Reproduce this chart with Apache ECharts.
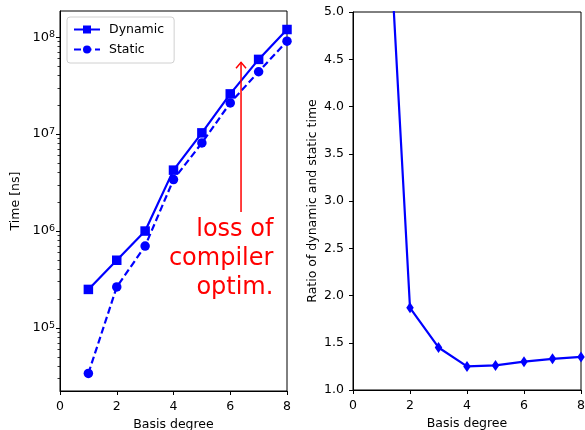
<!DOCTYPE html>
<html>
<head>
<meta charset="utf-8">
<script src="https://cdn.jsdelivr.net/npm/echarts@6/dist/echarts.min.js"></script>
<style>
html,body{margin:0;padding:0;background:#fff;}
#chart{width:585px;height:430px;}
</style>
</head>
<body>
<div id="chart"></div>
<script>
// ---- data ----
var degrees = [1, 2, 3, 4, 5, 6, 7, 8];
var dynamicTime = [2.5e5, 5.0e5, 1.0e6, 4.25e6, 1.03e7, 2.6e7, 5.9e7, 1.2e8];
var staticTime = [3.4e4, 2.65e5, 7.0e5, 3.4e6, 8.1e6, 2.1e7, 4.4e7, 9.1e7];
var ratio = [7.4, 1.87, 1.45, 1.25, 1.26, 1.30, 1.33, 1.35];
var timeMajorTicks = [1e5, 1e6, 1e7, 1e8];
var timeMinorTicks = [3e4, 4e4, 5e4, 6e4, 7e4, 8e4, 9e4,
  2e5, 3e5, 4e5, 5e5, 6e5, 7e5, 8e5, 9e5,
  2e6, 3e6, 4e6, 5e6, 6e6, 7e6, 8e6, 9e6,
  2e7, 3e7, 4e7, 5e7, 6e7, 7e7, 8e7, 9e7];
var xTicks = [0, 2, 4, 6, 8];
var ratioTicks = [1.0, 1.5, 2.0, 2.5, 3.0, 3.5, 4.0, 4.5, 5.0];
var annotationText = 'loss of\ncompiler\noptim.';

function pairs(xs, ys) { return xs.map(function (x, i) { return [x, ys[i]]; }); }

var FONT = 'DejaVu Sans';
var BLUE = '#0000ff';
var logMin = Math.pow(10, 4.35), logMax = Math.pow(10, 8.27);

var tickStyle = { color: '#000', width: 1 };
function xAxisCfg(grid) {
  return {
    type: 'value', gridIndex: grid, min: 0, max: 8, interval: 2,
    name: 'Basis degree', nameLocation: 'middle', nameGap: 25,
    nameTextStyle: { fontFamily: FONT, fontSize: 12.5, color: '#000' },
    axisLine: { show: true, onZero: false, lineStyle: { color: '#000', width: 1 } },
    axisTick: { show: true, inside: false, length: 4, lineStyle: tickStyle, customValues: xTicks },
    axisLabel: { show: true, margin: 9, fontFamily: FONT, fontSize: 12.5, color: '#000', customValues: xTicks },
    splitLine: { show: false }
  };
}

var chart = echarts.init(document.getElementById('chart'), null, { renderer: 'canvas' });
var option = {
  animation: false,
  backgroundColor: '#fff',
  grid: [
    { left: 60, right: 298, top: 11, bottom: 39, show: true, borderColor: '#000', borderWidth: 1, containLabel: false, outerBoundsMode: 'none' },
    { left: 353, right: 4, top: 12, bottom: 40, show: true, borderColor: '#000', borderWidth: 1, containLabel: false, outerBoundsMode: 'none' }
  ],
  legend: {
    data: ['Dynamic', 'Static'],
    orient: 'vertical', left: 67, top: 17,
    itemWidth: 26, itemHeight: 10, itemGap: 7,
    padding: [6, 10, 7, 6],
    backgroundColor: 'rgba(255,255,255,0.8)',
    borderColor: '#d0d0d0', borderWidth: 1, borderRadius: 3,
    textStyle: { fontFamily: FONT, fontSize: 12.5, color: '#000', padding: [0, 0, 0, 4] }
  },
  xAxis: [xAxisCfg(0), xAxisCfg(1)],
  yAxis: [
    {
      type: 'log', logBase: 10, gridIndex: 0, min: logMin, max: logMax,
      name: 'Time [ns]', nameLocation: 'middle', nameGap: 38,
      nameTextStyle: { fontFamily: FONT, fontSize: 12.5, color: '#000' },
      axisLine: { show: true, lineStyle: { color: '#000', width: 1 } },
      axisTick: { show: true, length: 4, lineStyle: tickStyle, customValues: timeMajorTicks },
      axisLabel: {
        show: true, margin: 5, customValues: timeMajorTicks,
        formatter: function (v) { return '{b|10}{s|' + Math.round(Math.log10(v)) + '}'; },
        rich: {
          b: { fontFamily: FONT, fontSize: 13, color: '#000' },
          s: { fontFamily: FONT, fontSize: 9.5, color: '#000', verticalAlign: 'bottom', padding: [0, 0, 5, 0] }
        }
      },
      splitLine: { show: false }
    },
    {
      type: 'log', logBase: 10, gridIndex: 0, min: logMin, max: logMax, position: 'left',
      axisLine: { show: false },
      axisTick: { show: true, length: 2.5, lineStyle: { color: '#000', width: 0.8 }, customValues: timeMinorTicks },
      axisLabel: { show: false },
      splitLine: { show: false }
    },
    {
      type: 'value', gridIndex: 1, min: 1, max: 5, interval: 0.5,
      name: 'Ratio of dynamic and static time', nameLocation: 'middle', nameGap: 34,
      nameTextStyle: { fontFamily: FONT, fontSize: 12.5, color: '#000' },
      axisLine: { show: true, lineStyle: { color: '#000', width: 1 } },
      axisTick: { show: true, length: 4, lineStyle: tickStyle, customValues: ratioTicks },
      axisLabel: { show: true, margin: 9, fontFamily: FONT, fontSize: 12.5, color: '#000', customValues: ratioTicks,
        formatter: function (v) { return Number(v).toFixed(1); } },
      splitLine: { show: false }
    }
  ],
  series: [
    {
      name: 'Dynamic', type: 'line', xAxisIndex: 0, yAxisIndex: 0,
      data: pairs(degrees, dynamicTime),
      symbol: 'rect', symbolSize: 9.5, showAllSymbol: true,
      lineStyle: { color: BLUE, width: 2.2 }, itemStyle: { color: BLUE }
    },
    {
      name: 'Static', type: 'line', xAxisIndex: 0, yAxisIndex: 0,
      data: pairs(degrees, staticTime),
      symbol: 'circle', symbolSize: 9.5, showAllSymbol: true,
      lineStyle: { color: BLUE, width: 2.2, type: [7, 3.5] }, itemStyle: { color: BLUE }
    },
    {
      name: 'Ratio', type: 'line', xAxisIndex: 1, yAxisIndex: 2,
      data: pairs(degrees, ratio),
      symbol: 'diamond', symbolSize: [7.5, 11], showAllSymbol: true, clip: true,
      lineStyle: { color: BLUE, width: 2.2 }, itemStyle: { color: BLUE }
    }
  ]
};
chart.setOption(option);

// annotation (data coordinates converted through the chart's own scales)
var tail = chart.convertToPixel({ xAxisIndex: 0, yAxisIndex: 0 }, [6.38, 1.57e6]);
var tip = chart.convertToPixel({ xAxisIndex: 0, yAxisIndex: 0 }, [6.38, 5.5e7]);
var textPos = chart.convertToPixel({ xAxisIndex: 0, yAxisIndex: 0 }, [7.52, 1.45e6]);
chart.setOption({
  graphic: [
    { type: 'line', shape: { x1: tail[0], y1: tail[1], x2: tip[0], y2: tip[1] }, style: { stroke: '#ff0000', lineWidth: 1.5 }, z: 100 },
    { type: 'polyline', shape: { points: [[tip[0] - 5, tip[1] + 6], [tip[0], tip[1]], [tip[0] + 5, tip[1] + 6]] }, style: { stroke: '#ff0000', lineWidth: 1.5, fill: null }, z: 100 },
    { type: 'text', x: textPos[0], y: textPos[1], z: 100,
      style: { text: annotationText, fill: '#ff0000', font: '24px "DejaVu Sans"', align: 'right', verticalAlign: 'top', lineHeight: 29 } }
  ]
});
</script>
</body>
</html>
